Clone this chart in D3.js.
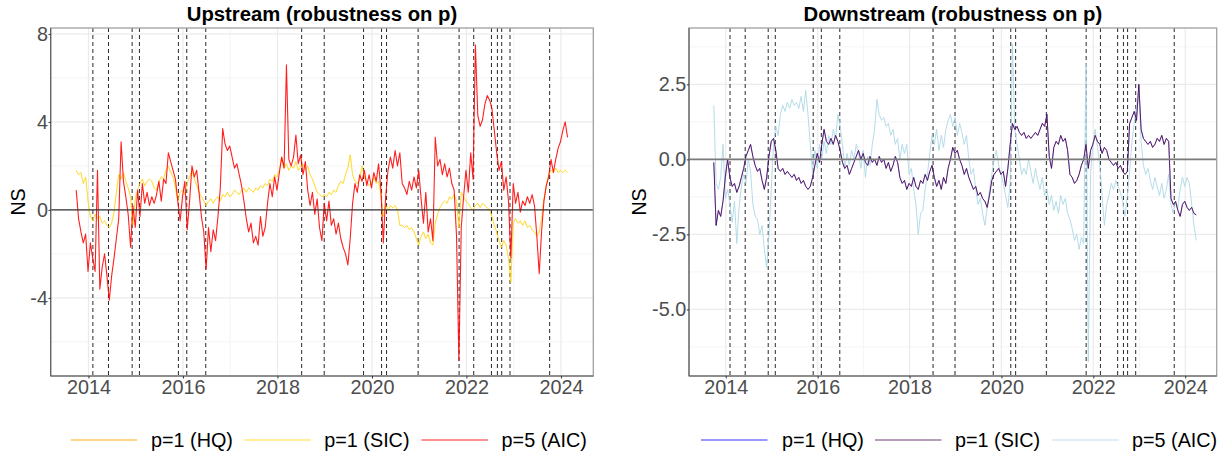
<!DOCTYPE html>
<html><head><meta charset="utf-8">
<script src="https://cdn.jsdelivr.net/npm/d3@7"></script>
<style>html,body{margin:0;padding:0;background:#fff;}svg{display:block;}</style>
</head><body><svg id="c" width="1231" height="458"></svg>
<script>
// ---------------- data ----------------
const seriesStart = 2013.74;   // first observation (decimal year)
const seriesStep = 0.05;       // spacing of the read-off points (years)
const yearTicks = [2014, 2016, 2018, 2020, 2022, 2024];
const yearMinor = [2015, 2017, 2019, 2021, 2023];
const eventYears = [2014.093, 2014.423, 2014.924, 2015.078, 2015.903, 2016.080, 2016.482,
  2018.512, 2018.989, 2019.822, 2020.203, 2020.309, 2020.977, 2021.844, 2022.154,
  2022.529, 2022.655, 2022.746, 2022.922, 2023.761];
const upTicks = [-4, 0, 4, 8];
const upMinor = [-6, -2, 2, 6];
const downTicks = [-5, -2.5, 0, 2.5];
const downMinor = [-6.25, -3.75, -1.25, 1.25, 3.75];
const legendLabels = ["p=1 (HQ)", "p=1 (SIC)", "p=5 (AIC)"];

const upSIC = [
 1.8,1.6,1.7,1.2,1.5,0.4,-0.3,-0.5,-0.2,-0.4,
 -0.3,-0.6,-0.5,-0.7,-0.8,-0.6,-0.1,0.8,1.6,1.4,
 1.7,1.3,1.0,0.6,-0.7,0.5,0.9,1.2,1.4,1.1,
 1.3,1.4,1.3,1.0,0.9,1.3,1.5,1.4,1.8,2.0,
 1.7,1.5,1.0,0.4,0.8,0.9,0.7,1.2,1.5,1.8,
 1.4,1.1,0.8,0.6,0.4,0.2,0.4,0.5,0.3,0.5,
 0.6,0.4,0.7,0.6,0.8,0.6,0.7,0.9,0.8,0.7,
 0.9,1.0,0.8,1.0,0.9,0.8,1.0,0.9,1.1,1.0,
 1.2,1.1,1.4,1.3,1.6,1.5,1.8,2.4,1.9,2.1,
 1.8,2.0,1.9,2.2,1.8,2.0,2.1,1.8,2.0,1.6,
 1.4,1.1,0.8,0.7,0.6,0.7,0.6,0.8,0.7,0.9,
 0.8,1.1,1.3,1.2,1.6,1.9,2.5,1.6,1.3,1.2,
 1.4,2.0,1.5,1.3,1.1,1.2,1.5,1.2,1.3,0.7,
 -0.3,0.2,0.0,0.2,0.1,0.2,0.0,-0.7,-0.7,-0.8,
 -0.7,-0.9,-0.8,-1.0,-1.3,-1.6,-1.2,-1.0,-1.3,-1.1,
 -1.5,-1.6,-0.6,-0.2,0.1,0.3,0.4,0.3,0.6,0.5,
 0.7,0.4,-0.8,0.8,0.6,0.4,0.3,0.1,0.0,0.2,
 0.3,0.1,0.3,0.2,0.1,0.0,-0.3,-0.7,-1.0,-1.4,
 -1.7,-1.4,-1.6,-2.2,-3.3,-0.6,-0.4,-0.6,-0.5,-0.7,
 -0.5,-0.8,-0.7,-0.9,-1.0,-1.2,-1.0,-0.4,0.5,1.1,
 1.6,1.8,1.7,1.9,1.7,1.8,1.7,1.8,1.7
];
const upHQ = upSIC; // p=1 is selected by both HQ and SIC
const upAIC = [
 0.9,-0.4,-1.0,-1.5,-1.1,-2.8,-1.5,-2.2,-2.8,1.8,
 -3.6,-2.6,-2.0,-3.0,-4.1,-3.0,-2.2,-1.3,-0.4,3.1,
 1.3,0.6,-0.2,-1.7,0.2,-0.8,0.9,-0.3,1.2,0.3,
 0.8,0.2,0.6,0.3,0.7,1.3,0.4,1.4,1.2,2.6,
 2.2,1.8,1.4,0.4,-0.5,0.6,1.3,-0.9,0.4,2.0,
 1.5,1.8,0.8,-0.3,-1.0,-2.7,-0.8,-1.9,-0.9,-1.4,
 -0.3,1.0,3.7,3.0,2.7,2.9,2.4,1.9,2.1,1.6,
 1.1,0.4,-0.4,-1.0,-0.6,-1.5,-1.2,-1.6,-0.3,-1.2,
 -0.8,0.3,1.2,0.6,1.5,0.9,1.7,2.4,1.9,6.6,
 2.3,2.0,2.4,3.4,2.1,2.5,1.6,2.2,0.9,0.2,
 0.8,-0.2,0.5,-0.8,-1.4,0.3,-0.5,0.4,-0.7,-0.4,
 -1.1,-0.6,-1.3,-1.7,-2.0,-2.5,-1.3,0.3,1.2,0.8,
 1.6,1.3,1.8,1.1,1.6,1.0,1.7,1.3,2.1,0.9,
 -1.5,0.6,1.8,2.4,1.9,2.7,2.0,2.6,1.2,1.0,
 0.7,1.3,0.9,1.5,1.0,1.8,0.5,-0.6,0.8,-1.0,
 -0.4,-1.4,3.3,2.0,2.3,1.6,2.1,1.5,1.9,1.2,
 0.9,-1.2,-6.85,-0.8,0.6,1.8,0.8,2.6,1.4,7.5,
 4.3,3.8,4.1,4.8,5.2,5.0,4.6,3.6,2.6,1.8,
 2.2,0.9,1.5,0.4,-2.2,1.2,0.3,0.8,-0.1,0.4,
 0.2,0.6,0.3,0.7,0.2,-1.2,-2.9,-1.0,0.4,1.1,
 1.5,2.3,1.7,2.3,2.8,3.1,3.6,4.0,3.3
];
const downSIC = [
 -0.1,-2.2,-1.7,-1.9,-1.4,-0.6,0.0,-0.6,-0.9,-0.8,
 -1.1,-0.9,-0.6,-0.3,0.1,0.3,0.5,0.1,-0.2,-0.4,
 -0.3,-0.7,-1.0,-0.6,0.1,0.6,0.7,0.3,-0.3,-0.4,
 -0.3,-0.5,-0.4,-0.5,-0.6,-0.5,-0.7,-0.6,-0.8,-0.7,
 -0.9,-1.0,-0.9,-0.6,-0.2,0.2,-0.1,0.5,1.0,0.6,
 0.5,0.7,0.5,0.8,0.6,0.3,-0.1,-0.3,-0.2,-0.5,
 -0.3,-0.1,0.1,0.3,0.0,0.2,-0.1,-0.2,0.1,-0.1,
 0.0,-0.2,0.1,-0.1,0.0,-0.3,-0.1,-0.4,-0.2,0.1,
 -0.1,-0.6,-0.8,-0.7,-1.0,-0.8,-0.9,-0.6,-0.9,-1.0,
 -0.7,-0.8,-0.5,-0.7,-0.4,-0.2,-0.6,-0.9,-0.7,-1.0,
 -0.6,-0.8,-0.3,0.0,0.4,0.2,0.3,0.0,-0.2,-0.5,
 -0.3,-0.6,-0.8,-1.0,-0.9,-1.2,-1.1,-1.3,-1.4,-1.6,
 -1.2,-0.7,-0.5,-0.4,-0.3,-0.5,-0.4,-0.9,-0.3,0.5,
 1.2,1.0,1.1,0.9,0.8,0.9,0.7,0.8,0.7,0.8,
 0.9,0.8,1.0,1.2,1.1,1.5,0.1,-0.3,0.4,0.6,
 0.5,0.8,0.6,0.7,0.3,-0.5,-0.6,-0.8,-0.7,-0.5,
 -0.2,0.0,0.5,-0.3,0.3,0.5,0.8,0.6,0.5,0.2,
 0.4,0.3,0.0,-0.1,-0.2,-0.1,-0.3,-0.2,-0.4,-0.5,
 -0.4,1.2,1.4,1.6,1.3,2.5,1.0,0.7,0.6,0.5,
 0.6,0.4,0.5,0.7,0.6,0.8,0.5,0.7,0.6,-1.3,
 -1.5,-1.4,-1.7,-1.9,-1.5,-1.4,-1.6,-1.7,-1.6,-1.8,-1.85
];
const downHQ = downSIC; // p=1 is selected by both HQ and SIC
const downAIC = [
 1.8,-0.8,-1.0,-0.6,0.5,-1.3,-1.0,-1.5,-2.1,-1.4,
 -2.8,-1.6,-0.9,-0.5,-0.8,0.0,-0.4,-1.5,-1.9,-2.0,
 -2.5,-2.2,-3.0,-3.6,-2.5,-1.0,0.5,1.1,0.8,1.5,
 1.8,1.6,1.9,1.7,2.0,1.8,1.9,1.7,2.1,1.6,
 2.3,1.5,0.5,-0.5,0.3,-0.3,0.5,0.0,0.6,0.2,
 0.8,0.5,1.0,0.7,1.5,1.1,0.5,-0.3,0.2,-0.2,
 0.3,0.0,0.5,0.2,-0.3,0.3,-0.6,0.1,-0.2,0.5,
 1.0,2.0,1.5,1.3,1.4,1.1,1.2,0.8,1.0,0.5,
 0.7,0.0,0.5,0.2,0.5,-0.5,-0.3,-1.0,-1.5,-2.5,
 -1.8,-1.7,-1.0,-0.5,0.2,0.8,0.5,1.0,0.3,0.8,
 0.4,1.0,1.3,1.5,1.1,1.4,0.8,1.2,0.9,0.5,
 0.8,0.0,-0.5,-0.3,-1.0,-1.5,-1.3,-1.8,-2.2,-1.6,
 -1.0,-0.5,0.0,0.3,-0.2,-0.5,-0.8,-1.2,-1.6,-0.8,
 3.85,1.0,0.5,0.0,-0.5,-0.3,-0.5,0.0,-0.4,-0.8,
 -0.3,-0.7,-1.0,-0.6,-1.2,-1.0,-1.5,-1.2,-1.7,-1.4,
 -1.8,-1.2,-1.5,-1.3,-1.8,-2.0,-2.3,-2.7,-2.5,-3.0,
 -2.6,-2.8,3.2,-6.75,-0.5,0.5,1.0,0.4,-0.2,-1.2,
 -2.2,-1.5,-1.2,-0.8,-1.0,-0.7,-0.9,-1.1,-1.4,-1.9,
 -1.2,-0.4,0.6,1.2,1.8,2.3,0.6,-0.2,-0.5,-0.3,
 -0.7,-1.0,-0.6,-0.9,-1.2,-0.8,-1.3,-1.0,-0.5,-1.5,
 -1.8,-1.4,-1.6,-1.0,-0.6,-0.9,-0.6,-0.8,-1.5,-2.2,-2.7
];

// ---------------- drawing ----------------
const FONT = '"Liberation Sans", Arial, Helvetica, sans-serif';
const svg = d3.select("#c").style("font-family", FONT);
svg.append("rect").attr("width", 1231).attr("height", 458).attr("fill", "#fff");

const TOP = 28, BOTTOM = 376;

function panel(cfg) {
  const g = svg.append("g");
  const x = d3.scaleLinear().domain([2013.2, 2024.685]).range([cfg.left, cfg.right]);
  const y = d3.scaleLinear().domain(cfg.yDomain).range([BOTTOM, TOP]);

  // grid: minor then major
  g.selectAll(null).data(cfg.yMinor).join("line")
    .attr("x1", cfg.left).attr("x2", cfg.right).attr("y1", d => y(d)).attr("y2", d => y(d))
    .attr("stroke", "#F3F3F3").attr("stroke-width", 0.9);
  g.selectAll(null).data(yearMinor).join("line")
    .attr("x1", d => x(d)).attr("x2", d => x(d)).attr("y1", TOP).attr("y2", BOTTOM)
    .attr("stroke", "#F3F3F3").attr("stroke-width", 0.9);
  g.selectAll(null).data(cfg.yTicks).join("line")
    .attr("x1", cfg.left).attr("x2", cfg.right).attr("y1", d => y(d)).attr("y2", d => y(d))
    .attr("stroke", "#EBEBEB").attr("stroke-width", 1.2);
  g.selectAll(null).data(yearTicks).join("line")
    .attr("x1", d => x(d)).attr("x2", d => x(d)).attr("y1", TOP).attr("y2", BOTTOM)
    .attr("stroke", "#EBEBEB").attr("stroke-width", 1.2);

  // event lines
  g.selectAll(null).data(eventYears).join("line")
    .attr("x1", d => x(d)).attr("x2", d => x(d)).attr("y1", TOP).attr("y2", BOTTOM)
    .attr("stroke", "#111").attr("stroke-width", 0.9).attr("stroke-dasharray", "4,3");

  // series (drawn in cfg.drawOrder)
  const clipId = "clip-" + cfg.key;
  svg.append("clipPath").attr("id", clipId).append("rect")
    .attr("x", cfg.left).attr("y", TOP).attr("width", cfg.right - cfg.left).attr("height", BOTTOM - TOP);
  const line = d3.line().x((d, i) => x(seriesStart + i * seriesStep)).y(d => y(d));
  cfg.drawOrder.forEach(k => {
    const s = cfg.series[k];
    g.append("path").attr("d", line(s.data)).attr("fill", "none")
      .attr("stroke", s.color).attr("stroke-opacity", s.opacity)
      .attr("stroke-width", s.width || 1).attr("stroke-linejoin", "round")
      .attr("clip-path", `url(#${clipId})`);
  });

  // zero line
  g.append("line").attr("x1", cfg.left).attr("x2", cfg.right).attr("y1", y(0)).attr("y2", y(0))
    .attr("stroke", cfg.zeroColor).attr("stroke-width", cfg.zeroWidth);

  // panel border
  g.append("rect").attr("x", cfg.left).attr("y", TOP)
    .attr("width", cfg.right - cfg.left).attr("height", BOTTOM - TOP)
    .attr("fill", "none").attr("stroke", "#A0A0A0").attr("stroke-width", 1.3);
  g.append("line").attr("x1", cfg.left).attr("x2", cfg.left).attr("y1", TOP).attr("y2", BOTTOM)
    .attr("stroke", "#5a5a5a").attr("stroke-width", 1.1);
  g.append("line").attr("x1", cfg.left).attr("x2", cfg.right).attr("y1", BOTTOM).attr("y2", BOTTOM)
    .attr("stroke", "#5a5a5a").attr("stroke-width", 1.1);

  // axes
  const ax = g.append("g").attr("transform", `translate(0,${BOTTOM})`)
    .call(d3.axisBottom(x).tickValues(yearTicks).tickFormat(d => String(d)).tickSize(2.5).tickPadding(1.8));
  const ay = g.append("g").attr("transform", `translate(${cfg.left},0)`)
    .call(d3.axisLeft(y).tickValues(cfg.yTicks).tickFormat(cfg.fmt).tickSize(2.2).tickPadding(0.6));
  [ax, ay].forEach(a => {
    a.select(".domain").remove();
    a.selectAll(".tick line").attr("stroke", "#333").attr("stroke-width", 1);
    a.selectAll(".tick text").attr("fill", "#4D4D4D").style("font-size", "19.8px").style("font-family", FONT);
  });

  // title
  g.append("text").attr("x", (cfg.left + cfg.right) / 2).attr("y", 20.5)
    .attr("text-anchor", "middle").style("font-weight", "bold").style("font-size", "20.3px")
    .attr("fill", "#000").text(cfg.title);

  // y title
  g.append("text").attr("transform", `translate(${cfg.nsX},${(TOP + BOTTOM) / 2}) rotate(-90)`)
    .attr("text-anchor", "middle").style("font-size", "19.6px").attr("fill", "#000").text("NS");

  // legend (in label order HQ, SIC, AIC)
  cfg.series.forEach((s, i) => {
    g.append("line").attr("x1", cfg.legKeys[i]).attr("x2", cfg.legKeys[i] + 66.5)
      .attr("y1", 440).attr("y2", 440).attr("stroke", s.color)
      .attr("stroke-opacity", s.legOpacity).attr("stroke-width", 2.2);
    g.append("text").attr("x", cfg.legText[i]).attr("y", 447.3)
      .style("font-size", "19.8px").attr("fill", "#000").text(legendLabels[i]);
  });
}

panel({
  key: "up", left: 50.7, right: 593.3, yDomain: [-7.55, 8.27],
  yTicks: upTicks, yMinor: upMinor, fmt: d => String(d),
  title: "Upstream (robustness on p)", nsX: 25,
  zeroColor: "#333", zeroWidth: 1.1,
  legKeys: [70.7, 244.5, 421.5], legText: [151, 324.3, 501.6],
  series: [
    { data: upHQ, color: "#FFA500", opacity: 0.2, legOpacity: 0.45 },
    { data: upSIC, color: "#FFD700", opacity: 0.75, legOpacity: 0.42 },
    { data: upAIC, color: "#FF0000", opacity: 0.88, width: 1.1, legOpacity: 0.43 }
  ],
  drawOrder: [0, 1, 2]
});

panel({
  key: "down", left: 689, right: 1216.7, yDomain: [-7.22, 4.38],
  yTicks: downTicks, yMinor: downMinor, fmt: d => d.toFixed(1),
  title: "Downstream (robustness on p)", nsX: 646,
  zeroColor: "#7a7a7a", zeroWidth: 1.6,
  legKeys: [701, 875, 1052], legText: [782, 955, 1132],
  series: [
    { data: downHQ, color: "#0000FF", opacity: 0.3, legOpacity: 0.4 },
    { data: downSIC, color: "#4B0A55", opacity: 0.9, legOpacity: 0.4 },
    { data: downAIC, color: "#ADD8E6", opacity: 0.9, legOpacity: 0.42 }
  ],
  drawOrder: [0, 2, 1]
});
</script>
</body></html>
